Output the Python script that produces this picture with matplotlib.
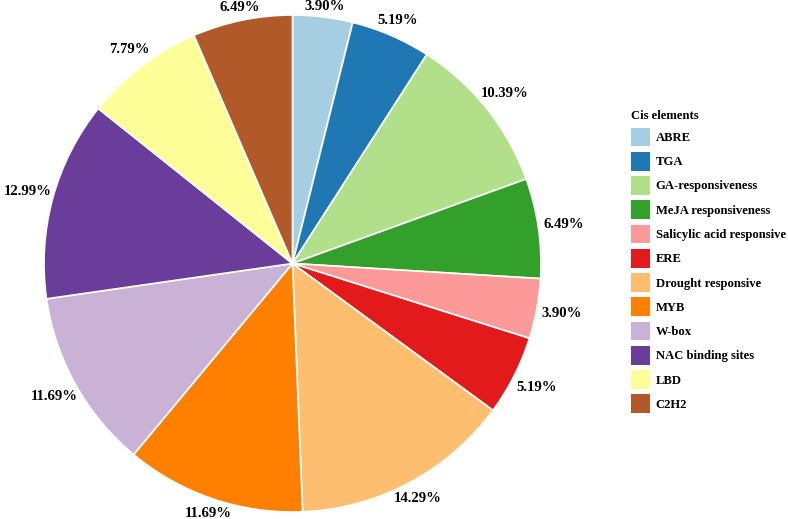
import numpy as np
import matplotlib
matplotlib.use("Agg")
import matplotlib.pyplot as plt

plt.rcParams['font.family'] = ['Liberation Serif', 'DejaVu Serif']
plt.rcParams['font.weight'] = 'bold'

categories = ["ABRE", "TGA", "GA-responsiveness", "MeJA responsiveness",
              "Salicylic acid responsive", "ERE", "Drought responsive", "MYB",
              "W-box", "NAC binding sites", "LBD", "C2H2"]
percentages = [3.90, 5.19, 10.39, 6.49, 3.90, 5.19, 14.29, 11.69, 11.69, 12.99, 7.79, 6.49]
colors = ["#A6CEE3", "#1F78B4", "#B2DF8A", "#33A02C", "#FB9A99", "#E31A1C",
          "#FDBF6F", "#FF7F00", "#CAB2D6", "#6A3D9A", "#FFFF99", "#B15928"]
legend_title = "Cis elements"

W, H = 788, 519
fig = plt.figure(figsize=(W / 100, H / 100), dpi=100)
cx, cy, R = 292.5, 263.5, 248.5
ax = fig.add_axes([(cx - R) / W, (H - cy - R) / H, 2 * R / W, 2 * R / H])

wedges, _ = ax.pie(percentages, colors=colors, startangle=90, counterclock=False,
                   radius=1.0, wedgeprops=dict(edgecolor='white', linewidth=1.2))
ax.set_xlim(-1, 1)
ax.set_ylim(-1, 1)
ax.set_aspect('equal')
ax.axis('off')

# percentage labels placed just outside the pie, clearing the text box
vals = np.array(percentages)
cum = np.cumsum(vals) - vals / 2
theta = np.deg2rad(cum / vals.sum() * 360.0)  # clockwise from top
half_w = 23 / R
half_h = 6.5 / R
r0 = 1.006
for t, v in zip(theta, vals):
    s, c = np.sin(t), np.cos(t)
    r = r0 + half_w * abs(s) + half_h * abs(c)
    ax.text(r * s, r * c, f"{v:.2f}%", ha='center', va='center',
            fontsize=10.6, fontweight='bold', color='black', clip_on=False)

leg = fig.legend(wedges, categories, title=legend_title, loc='upper left',
                 bbox_to_anchor=(631 / W, 1 - 110 / H), frameon=False,
                 fontsize=9.1, title_fontproperties={'weight': 'bold', 'size': 9.1},
                 handlelength=1.5, handleheight=1.9, handletextpad=0.45,
                 labelspacing=0.44, borderpad=0, borderaxespad=0,
                 alignment='left')
for h in leg.legend_handles:
    h.set_edgecolor('none')

fig.savefig("out.png", dpi=100)
